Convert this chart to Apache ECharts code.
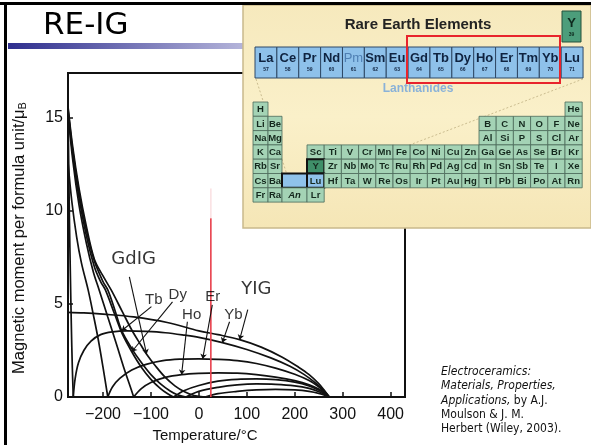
<!DOCTYPE html>
<html>
<head>
<meta charset="utf-8">
<script src="https://cdn.jsdelivr.net/npm/echarts@6/dist/echarts.min.js"></script>
<style>
html,body{margin:0;padding:0;background:#fff;}
#c{width:591px;height:445px;}
</style>
</head>
<body>
<div id="c"></div>
<script>
// ---- magnetic moment curves, [temperature °C, |moment| μB per formula unit]
// rare-earth garnets: falling branch below compensation point, rising branch above
const yigCurve = [[-273,4.55],[-240,4.52],[-200,4.45],[-136,4.3],[-66,4.0],[0,3.55],[40,3.35],[85,3.08],[130,2.68],[173,2.15],[208,1.6],[230,1.2],[250,0.72],[262,0.35],[272,0]];
const ybFalling = [[-273,15.6],[-271.5,12.5],[-270,9.5],[-268,6.5],[-266,3.8],[-264,1.6],[-262,0]];
const ybRising = [[-262,0],[-258,1.0],[-251,1.85],[-240,2.5],[-225,3.0],[-205,3.35],[-180,3.5],[-150,3.55],[-110,3.52],[-70,3.45],[-30,3.32],[0,3.2],[49,2.92],[100,2.55],[150,2.1],[190,1.65],[220,1.2],[245,0.72],[262,0.3],[272,0]];
const erFalling = [[-273,12.6],[-265,10.5],[-255,8.6],[-245,7.2],[-231,5.75],[-220,4.4],[-210,3.1],[-200,1.6],[-190,0]];
const erRising = [[-190,0],[-180,0.55],[-165,1.0],[-140,1.45],[-110,1.75],[-75,1.95],[-40,2.03],[0,2.05],[40,2.02],[80,1.95],[120,1.8],[160,1.55],[200,1.22],[230,0.88],[252,0.5],[265,0.2],[272,0]];
const hoFalling = [[-273,15.3],[-263,12.7],[-250,10.3],[-235,8.3],[-220,6.7],[-208,5.75],[-190,4.3],[-172,2.85],[-155,1.45],[-145,0.7],[-136,0]];
const hoRising = [[-136,0],[-120,0.45],[-100,0.78],[-70,1.05],[-36,1.2],[0,1.27],[40,1.3],[80,1.28],[120,1.2],[160,1.07],[200,0.88],[230,0.66],[252,0.4],[265,0.16],[272,0]];
const dyFalling = [[-273,15.4],[-263,13.0],[-250,10.7],[-235,8.7],[-218,7.0],[-205,6.2],[-195,5.75],[-175,4.4],[-160,3.4],[-140,2.43],[-120,1.6],[-100,0.95],[-80,0.45],[-65,0.17],[-53,0]];
const dyRising = [[-53,0],[-30,0.35],[0,0.62],[40,0.85],[80,0.95],[120,0.97],[160,0.93],[200,0.8],[230,0.6],[252,0.35],[265,0.13],[272,0]];
const tbFalling = [[-273,15.5],[-263,13.2],[-250,11.0],[-235,9.0],[-218,7.3],[-200,6.2],[-190,5.75],[-175,4.65],[-161,3.56],[-140,2.6],[-120,1.85],[-100,1.2],[-80,0.7],[-60,0.32],[-45,0.12],[-27,0]];
const tbRising = [[-27,0],[0,0.3],[40,0.52],[80,0.65],[120,0.7],[160,0.68],[200,0.6],[230,0.46],[252,0.27],[265,0.1],[272,0]];
const gdFalling = [[-273,15.6],[-263,13.4],[-250,11.2],[-235,9.2],[-218,7.4],[-200,6.5],[-183,5.75],[-160,4.6],[-140,3.6],[-120,2.75],[-109,2.3],[-90,1.65],[-70,1.05],[-50,0.6],[-30,0.28],[-10,0.08],[13,0]];
const gdRising = [[13,0],[40,0.18],[80,0.3],[120,0.38],[160,0.41],[200,0.38],[230,0.3],[252,0.18],[265,0.07],[272,0]];

// room temperature marker, °C, and its height in μB
const roomTemperature = 25;
const roomMarkerTop = 9.6;

// axis ticks
const temperatureTicks = [-200,-100,0,100,200,300,400];
const momentTicks = [0,5,10,15];

// curve labels: text, label anchor [°C, μB], pointer start [°C, μB], pointer tip temperature, curve pointed at
const labelTexts = ['GdIG','Tb','Dy','Ho','Er','Yb','YIG'];
const labelAnchors = [[-136,7.37],[-94,5.22],[-44,5.49],[-15,4.42],[29,5.38],[72,4.42],[120,5.76]];
const pointerStarts = [[-145,6.45],[-99,4.85],[-55,5.11],[-24,4.04],[28,4.95],[64,4.04],[102,4.69]];
const pointerTipTemps = [-109,-161,-140,-36,8,49,85];
const pointerCurves = [gdFalling,tbFalling,dyFalling,hoRising,erRising,ybRising,yigCurve];

// ---- periodic table inset
const lanthanides = ['La','Ce','Pr','Nd','Pm','Sm','Eu','Gd','Tb','Dy','Ho','Er','Tm','Yb','Lu'];
const lanthanideNumbers = [57,58,59,60,61,62,63,64,65,66,67,68,69,70,71];
// 19 slots per period: groups 1-2, f-block placeholder, groups 3-18
const periods = [
  ['H','','','','','','','','','','','','','','','','','','He'],
  ['Li','Be','','','','','','','','','','','','B','C','N','O','F','Ne'],
  ['Na','Mg','','','','','','','','','','','','Al','Si','P','S','Cl','Ar'],
  ['K','Ca','','Sc','Ti','V','Cr','Mn','Fe','Co','Ni','Cu','Zn','Ga','Ge','As','Se','Br','Kr'],
  ['Rb','Sr','','Y','Zr','Nb','Mo','Tc','Ru','Rh','Pd','Ag','Cd','In','Sn','Sb','Te','I','Xe'],
  ['Cs','Ba','Ln','Lu','Hf','Ta','W','Re','Os','Ir','Pt','Au','Hg','Tl','Pb','Bi','Po','At','Rn'],
  ['Fr','Ra','An','Lr','','','','','','','','','','','','','','','']
];

const chart = echarts.init(document.getElementById('c'), null, {renderer: 'canvas'});

function interpolate(curve, t) {
  for (let i = 0; i < curve.length - 1; i++) {
    const a = curve[i], b = curve[i + 1];
    if (t >= a[0] && t <= b[0]) {
      return a[1] + (b[1] - a[1]) * (t - a[0]) / (b[0] - a[0]);
    }
  }
  return curve[curve.length - 1][1];
}

function curveSeries(data) {
  return {
    type: 'line', data: data, xAxisIndex: 0, yAxisIndex: 0,
    showSymbol: false, smooth: 0.35, clip: true,
    lineStyle: {color: '#111', width: 1.7},
    silent: true, z: 3
  };
}

const curves = [yigCurve, ybFalling, ybRising, erFalling, erRising, hoFalling, hoRising,
                dyFalling, dyRising, tbFalling, tbRising, gdFalling, gdRising];

const pointerData = labelTexts.map((t, i) => ({
  coords: [pointerStarts[i], [pointerTipTemps[i], interpolate(pointerCurves[i], pointerTipTemps[i])]]
}));

// GdIG and YIG are set in the slide face, the element symbols in the figure's own face
const slideLabels = ['GdIG', 'YIG'];
const figureLabelData = labelTexts.map((t, i) => ({value: labelAnchors[i], name: t}))
  .filter(d => slideLabels.indexOf(d.name) < 0);
const slideLabelData = labelTexts.map((t, i) => ({value: labelAnchors[i], name: t}))
  .filter(d => slideLabels.indexOf(d.name) >= 0);

// inset layout, in inset pixels
const insetW = 348, insetH = 223;
function slotLeft(k) {
  if (k === 0) return 10;
  if (k === 1) return 25;
  if (k === 2) return 39;
  return 64 + (k - 3) * 17.2;
}
function slotWidth(k) {
  if (k === 0) return 15;
  if (k === 1) return 14;
  if (k === 2) return 25;
  return 17.2;
}
const periodTop = 97, periodH = 14.3;

const tableCells = [];
periods.forEach((row, r) => {
  row.forEach((sym, k) => {
    if (sym) tableCells.push({r: r, k: k, sym: sym});
  });
});

function tableRender(params, api) {
  const cell = tableCells[params.dataIndex];
  const x0 = slotLeft(cell.k), y0 = periodTop + cell.r * periodH;
  const p0 = api.coord([x0, y0]);
  const p1 = api.coord([x0 + slotWidth(cell.k), y0 + periodH]);
  let fill = '#a4d3b5', stroke = '#4b6a5a', lw = 0.8, italic = 'normal';
  let label = cell.sym;
  if (cell.sym === 'Y') { fill = '#3f8f69'; stroke = '#111'; lw = 2; }
  if (cell.sym === 'Lu') { fill = '#8fc2ea'; stroke = '#111'; lw = 2; }
  if (cell.sym === 'Ln') { fill = '#8fc2ea'; stroke = '#111'; lw = 2; label = ''; }
  if (cell.sym === 'An') { italic = 'italic'; }
  return {
    type: 'group',
    children: [
      {type: 'rect', shape: {x: p0[0], y: p0[1], width: p1[0] - p0[0], height: p1[1] - p0[1]},
       style: {fill: fill, stroke: stroke, lineWidth: lw}},
      {type: 'text', style: {x: (p0[0] + p1[0]) / 2, y: (p0[1] + p1[1]) / 2 + 0.5, text: label,
        fill: '#15291e', font: italic + ' bold 9.5px "Liberation Sans"', align: 'center', verticalAlign: 'middle'}}
    ]
  };
}

const lanLeft = 12, lanW = 21.87, lanTop = 42, lanH = 31;
function lanthanideRender(params, api) {
  const i = params.dataIndex;
  const p0 = api.coord([lanLeft + i * lanW, lanTop]);
  const p1 = api.coord([lanLeft + (i + 1) * lanW, lanTop + lanH]);
  const faint = lanthanides[i] === 'Pm';
  return {
    type: 'group',
    children: [
      {type: 'rect', shape: {x: p0[0], y: p0[1], width: p1[0] - p0[0], height: p1[1] - p0[1]},
       style: {fill: '#8ec1ea', stroke: '#2e4866', lineWidth: 1}},
      {type: 'text', style: {x: (p0[0] + p1[0]) / 2, y: p0[1] + 11, text: lanthanides[i],
        fill: faint ? '#4f7fb3' : '#0f2340', font: (faint ? 'normal ' : 'bold ') + '13px "Liberation Sans Narrow","Liberation Sans"',
        align: 'center', verticalAlign: 'middle'}},
      {type: 'text', style: {x: (p0[0] + p1[0]) / 2, y: p0[1] + 23, text: String(lanthanideNumbers[i]),
        fill: '#0f2340', font: 'bold 5px "Liberation Sans"', align: 'center', verticalAlign: 'middle'}}
    ]
  };
}

function yttriumRender(params, api) {
  const p0 = api.coord([319, 6]);
  const p1 = api.coord([338, 37]);
  return {
    type: 'group',
    children: [
      {type: 'rect', shape: {x: p0[0], y: p0[1], width: p1[0] - p0[0], height: p1[1] - p0[1]},
       style: {fill: '#4c9d7b', stroke: '#24503d', lineWidth: 1}},
      {type: 'text', style: {x: (p0[0] + p1[0]) / 2, y: p0[1] + 12, text: 'Y',
        fill: '#0e2a1e', font: 'bold 13px "Liberation Sans"', align: 'center', verticalAlign: 'middle'}},
      {type: 'text', style: {x: (p0[0] + p1[0]) / 2, y: p0[1] + 24, text: '39',
        fill: '#0e2a1e', font: 'bold 5px "Liberation Sans"', align: 'center', verticalAlign: 'middle'}}
    ]
  };
}

function labelSeries(data, font) {
  return {
    type: 'scatter', xAxisIndex: 0, yAxisIndex: 0, data: data, symbolSize: 0, z: 6, silent: true,
    label: {show: true, position: 'inside', formatter: p => p.name, color: '#000',
            fontFamily: font.family, fontSize: font.size},
    labelLayout: {hideOverlap: false}
  };
}

const option = {
  animation: false,
  backgroundColor: '#ffffff',
  grid: [
    {left: 68, top: 73, width: 337, height: 324, show: true, borderColor: '#111', borderWidth: 2, backgroundColor: 'transparent', z: 1},
    {left: 243, top: 5, width: insetW, height: insetH, show: false, z: 20}
  ],
  xAxis: [
    {type: 'value', gridIndex: 0, min: -273, max: 430,
     axisLine: {show: true, onZero: false, lineStyle: {color: '#111', width: 2}},
     axisTick: {show: true, inside: true, length: 5, customValues: temperatureTicks, lineStyle: {color: '#111', width: 1.5}},
     axisLabel: {customValues: temperatureTicks, color: '#111', fontSize: 16, fontFamily: 'Liberation Sans', margin: 10,
                 formatter: v => (v < 0 ? '\u2212' + Math.abs(v) : String(v))},
     splitLine: {show: false}},
    {type: 'value', gridIndex: 1, min: 0, max: insetW, show: false}
  ],
  yAxis: [
    {type: 'value', gridIndex: 0, min: 0, max: 17.4,
     axisLine: {show: true, onZero: false, lineStyle: {color: '#111', width: 2}},
     axisTick: {show: true, inside: true, length: 5, customValues: momentTicks, lineStyle: {color: '#111', width: 1.5}},
     axisLabel: {customValues: momentTicks, color: '#111', fontSize: 16, fontFamily: 'Liberation Sans', margin: 5},
     splitLine: {show: false}},
    {type: 'value', gridIndex: 1, min: 0, max: insetH, inverse: true, show: false}
  ],
  series: curves.map(c => curveSeries(c)).concat([
    {type: 'line', data: [[roomTemperature, 0], [roomTemperature, roomMarkerTop]], showSymbol: false,
     lineStyle: {color: '#e8404c', width: 1.6}, z: 4, silent: true},
    {type: 'line', data: [[roomTemperature, roomMarkerTop], [roomTemperature, roomMarkerTop + 1.6]], showSymbol: false,
     lineStyle: {color: '#f6c4c8', width: 1.6, opacity: 0.5}, z: 4, silent: true},
    {type: 'lines', coordinateSystem: 'cartesian2d', xAxisIndex: 0, yAxisIndex: 0, data: pointerData,
     symbol: ['none', 'arrow'], symbolSize: 5, lineStyle: {color: '#111', width: 1.1, opacity: 1}, z: 5, silent: true},
    labelSeries(figureLabelData, {family: 'Liberation Sans', size: 15}),
    labelSeries(slideLabelData, {family: 'DejaVu Sans', size: 18}),
    {type: 'custom', coordinateSystem: 'cartesian2d', xAxisIndex: 1, yAxisIndex: 1, data: tableCells.map((c, i) => [i]),
     renderItem: tableRender, z: 22, silent: true},
    {type: 'custom', coordinateSystem: 'cartesian2d', xAxisIndex: 1, yAxisIndex: 1, data: lanthanides.map((s, i) => [i]),
     renderItem: lanthanideRender, z: 22, silent: true},
    {type: 'custom', coordinateSystem: 'cartesian2d', xAxisIndex: 1, yAxisIndex: 1, data: [[0]],
     renderItem: yttriumRender, z: 22, silent: true}
  ]),
  graphic: [
    // slide frame and title
    {type: 'rect', shape: {x: 0, y: 2, width: 591, height: 3}, style: {fill: '#000'}, z: 30},
    {type: 'rect', shape: {x: 4, y: 2, width: 3, height: 443}, style: {fill: '#000'}, z: 30},
    {type: 'rect', shape: {x: 8, y: 43, width: 235, height: 6},
     style: {fill: new echarts.graphic.LinearGradient(0, 0, 1, 0, [{offset: 0, color: '#2e2e8e'}, {offset: 1, color: '#b4b4da'}])}, z: 10},
    {type: 'text', style: {x: 43, y: 26, text: 'RE-IG', font: '31px "DejaVu Sans"', fill: '#000', verticalAlign: 'middle'}, z: 10},
    // axis titles
    {type: 'text', style: {x: 205, y: 436, text: 'Temperature/\u00B0C', font: '15px "Liberation Sans"', fill: '#111', align: 'center', verticalAlign: 'middle'}, z: 10},
    {type: 'text', rotation: Math.PI / 2, x: 19, y: 238,
     style: {x: 0, y: 0, text: '{a|Magnetic moment per formula unit/\u03BC}{b|B}', align: 'center', verticalAlign: 'middle',
       rich: {a: {font: '16.5px "Liberation Sans"', fill: '#111'}, b: {font: '11px "Liberation Sans"', fill: '#111', padding: [8, 0, 0, 0]}}}, z: 10},
    // citation
    {type: 'text', style: {x: 441, y: 365,
      text: '{i|Electroceramics:}\n{i|Materials, Properties,}\n{i|Applications,}{n| by A.J.}\n{n|Moulson & J. M.}\n{n|Herbert (Wiley, 2003).}',
      lineHeight: 14.2,
      rich: {i: {font: 'italic 12px "DejaVu Sans Condensed","DejaVu Sans"', fill: '#111', lineHeight: 14.2},
             n: {font: '12px "DejaVu Sans Condensed","DejaVu Sans"', fill: '#111', lineHeight: 14.2}}}, z: 10},
    // inset backdrop
    {type: 'rect', shape: {x: 243, y: 5, width: 348, height: 223},
     style: {fill: new echarts.graphic.LinearGradient(0, 0, 0, 1, [{offset: 0, color: '#f6e9bd'}, {offset: 0.5, color: '#faf0c9'}, {offset: 1, color: '#f5e6b6'}]),
             stroke: '#c9b98c', lineWidth: 1.5}, z: 15},
    {type: 'line', shape: {x1: 256, y1: 79, x2: 290, y2: 184}, style: {stroke: '#cbbd90', lineWidth: 1, lineDash: [2, 2]}, z: 16},
    {type: 'line', shape: {x1: 583, y1: 79, x2: 307, y2: 184}, style: {stroke: '#cbbd90', lineWidth: 1, lineDash: [2, 2]}, z: 16},
    {type: 'text', style: {x: 418, y: 25, text: 'Rare Earth Elements', font: 'bold 15px "Liberation Sans"', fill: '#232323', align: 'center', verticalAlign: 'middle'}, z: 30},
    {type: 'text', style: {x: 418, y: 89, text: 'Lanthanides', font: 'bold 12px "Liberation Sans"', fill: '#8ab2d8', align: 'center', verticalAlign: 'middle'}, z: 30},
    {type: 'rect', shape: {x: 407, y: 36, width: 153, height: 47}, style: {fill: 'none', stroke: '#e8242c', lineWidth: 2}, z: 30}
  ]
};

chart.setOption(option);
</script>
</body>
</html>
